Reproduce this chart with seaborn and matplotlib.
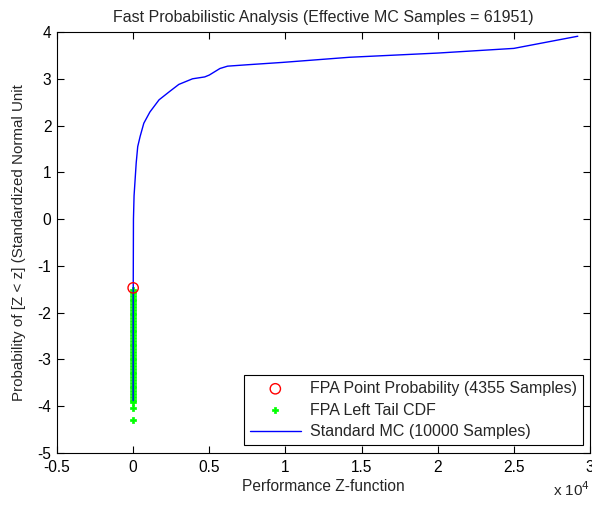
import matplotlib
matplotlib.use("Agg")
import matplotlib.pyplot as plt
import seaborn as sns
import pandas as pd
from matplotlib.ticker import FuncFormatter, FixedLocator

# ---- data (x in raw units, axis shown in units of 10^4) ----
mc_x = [0, 5, 20, 60, 130, 200, 300, 460, 700, 1100, 1700, 2400, 3000, 3900,
        4700, 5000, 5400, 5700, 6200, 7500, 9800, 14200, 20000, 25000, 29200]
mc_y = [-3.88, -1.5, 0.0, 0.5, 0.85, 1.2, 1.55, 1.77, 2.05, 2.29, 2.55, 2.73,
        2.88, 3.0, 3.04, 3.08, 3.16, 3.22, 3.27, 3.30, 3.35, 3.46, 3.55, 3.65, 3.91]

point_x = [0]
point_y = [-1.47]

tail_y = [-1.52, -1.58, -1.64, -1.70, -1.76, -1.82, -1.88, -1.94, -2.00, -2.06,
          -2.12, -2.18, -2.24, -2.30, -2.36, -2.42, -2.48, -2.54, -2.60, -2.66,
          -2.72, -2.78, -2.84, -2.90, -2.96, -3.02, -3.08, -3.14, -3.20, -3.26,
          -3.32, -3.38, -3.44, -3.50, -3.56, -3.62, -3.68, -3.74, -3.80, -3.86,
          -3.92, -4.04, -4.30]
tail_x = [0, 10, -10, 5, 0, -5, 10, 0, -10, 5, 0, 10, -5, 0, 5, -10, 0, 10, -5, 0,
          5, 0, -10, 10, 0, -5, 5, 0, 10, -10, 0, 5, -5, 0, 10, 0, -5, 5, 0, 0,
          0, 0, 0]

x_ticks = [-0.5, 0, 0.5, 1, 1.5, 2, 2.5, 3]
y_ticks = [-5, -4, -3, -2, -1, 0, 1, 2, 3, 4]

title = "Fast Probabilistic Analysis (Effective MC Samples = 61951)"
xlabel = "Performance Z-function"
ylabel = "Probability of [Z < z] (Standardized Normal Unit"
lbl_point = "FPA Point Probability (4355 Samples)"
lbl_tail = "FPA Left Tail CDF"
lbl_mc = "Standard MC (10000 Samples)"

sns.set_theme(style="white")
plt.rcParams['font.family'] = ['Liberation Sans', 'DejaVu Sans']
plt.rcParams['font.size'] = 11

fig = plt.figure(figsize=(5.92, 5.05), dpi=100)
ax = fig.add_axes([0.0963, 0.103, 0.9003, 0.8336])

df_mc = pd.DataFrame({"x": mc_x, "y": mc_y})
df_pt = pd.DataFrame({"x": point_x, "y": point_y})
df_tail = pd.DataFrame({"x": tail_x, "y": tail_y})

sns.scatterplot(data=df_tail, x="x", y="y", ax=ax, marker="P", s=22,
                color="#00ff00", edgecolor="#00ff00", linewidth=0.5,
                label=lbl_tail, zorder=2)
sns.lineplot(data=df_mc, x="x", y="y", ax=ax, sort=False, estimator=None,
             color="#0000ff", linewidth=1.0, label=lbl_mc, zorder=3)
sns.scatterplot(data=df_pt, x="x", y="y", ax=ax, marker="o", s=55,
                facecolor="none", edgecolor="#ff0000", linewidth=1.0,
                label=lbl_point, zorder=4)

ax.set_xlim(-5000, 30000)
ax.set_ylim(-5, 4)
ax.xaxis.set_major_locator(FixedLocator([t * 1e4 for t in x_ticks]))
ax.xaxis.set_major_formatter(FuncFormatter(lambda v, p: "%g" % (v / 1e4)))
ax.set_yticks(y_ticks)
ax.yaxis.set_major_formatter(FuncFormatter(lambda v, p: "%g" % v))

ax.tick_params(direction="in", length=5, width=0.8, top=True, right=True,
               bottom=True, left=True, labelsize=11.2, colors="black")
ax.tick_params(axis="x", pad=5)
ax.tick_params(axis="y", pad=4)
for sp in ax.spines.values():
    sp.set_visible(True)
    sp.set_color("black")
    sp.set_linewidth(0.8)

ax.set_title(title, fontsize=11.5, pad=7)
ax.set_xlabel(xlabel, fontsize=11.2, labelpad=3)
ax.set_ylabel(ylabel, fontsize=10.9, labelpad=8)
fig.text(0.934, 0.012, "x 10$^4$", fontsize=11, ha="left", va="bottom")

handles, labels = ax.get_legend_handles_labels()
order = [labels.index(lbl_point), labels.index(lbl_tail), labels.index(lbl_mc)]
leg = ax.legend([handles[i] for i in order], [labels[i] for i in order],
                loc="lower right", bbox_to_anchor=(0.987, 0.019),
                borderaxespad=0, fontsize=11.5, frameon=True, fancybox=False,
                edgecolor="black", framealpha=1, handlelength=3.2,
                handletextpad=0.6, labelspacing=0.42, borderpad=0.35)
leg.get_frame().set_linewidth(0.8)

fig.savefig("out.png", dpi=100)
